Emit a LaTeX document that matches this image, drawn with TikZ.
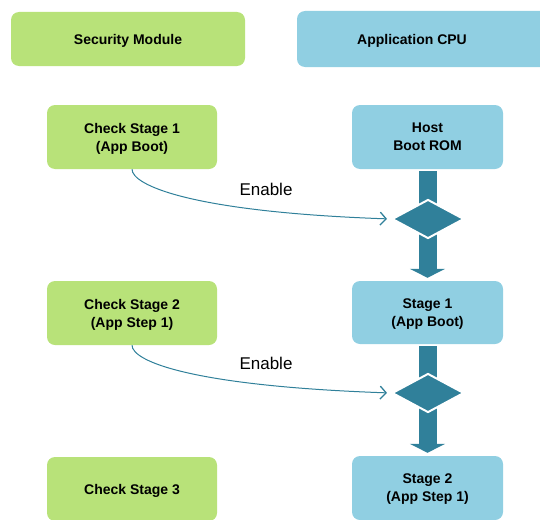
\documentclass[tikz,border=0pt]{standalone}
\usepackage{fontspec}
\setmainfont{Liberation Sans}
\usetikzlibrary{shapes.geometric,arrows.meta}
\definecolor{smgreen}{RGB}{184,226,121}
\definecolor{cpublue}{RGB}{144,207,226}
\definecolor{teal}{RGB}{48,128,154}
\tikzset{
  box/.style={rounded corners=8pt, minimum height=64pt, inner sep=0pt, align=center,
    text depth=0pt, font=\fontsize{14}{18}\selectfont\bfseries},
  greenbox/.style={box, fill=smgreen, minimum width=170pt},
  bluebox/.style={box, fill=cpublue, minimum width=151pt},
  bigarrow/.style={draw=teal, line width=18pt, -{Triangle[width=35pt,length=9pt]}},
  gate/.style={diamond, fill=teal, draw=white, line width=2pt, minimum width=72pt,
    minimum height=39pt, inner sep=0pt},
  enablearrow/.style={draw=teal, line width=1pt, -{Straight Barb[length=6pt,width=13pt,line width=1.3pt]}},
  lbl/.style={font=\fontsize{17}{20}\selectfont, inner sep=0pt}
}
\begin{document}
\begin{tikzpicture}[x=1pt,y=-1pt]
\useasboundingbox (0,0) rectangle (540,519);
% headers
\node[box, fill=smgreen, minimum width=234pt, minimum height=54pt] (sm) at (128,39) {Security Module};
\node[box, fill=cpublue, minimum width=263pt, minimum height=56pt] (cpu) at (428.5,39) {};
\node[font=\fontsize{14}{18}\selectfont\bfseries, text depth=0pt, inner sep=0pt] (cputxt) at (412,39) {Application CPU};
% left column
\node[greenbox] (cs1) at (132,137) {Check Stage 1\\(App Boot)};
\node[greenbox] (cs2) at (132,313) {Check Stage 2\\(App Step 1)};
\node[greenbox] (cs3) at (132,489) {Check Stage 3};
% right column
\node[bluebox] (rom) at (427.5,137) {Host\\Boot ROM};
\node[bluebox, minimum height=63pt] (s1) at (427.5,312.5) {Stage 1\\(App Boot)};
\node[bluebox] (s2) at (427.5,488) {Stage 2\\(App Step 1)};
% thick flow arrows
\draw[bigarrow] ([yshift=-2pt]rom.south) -- ([yshift=3pt]s1.north);
\draw[bigarrow] ([yshift=-2pt]s1.south) -- ([yshift=3pt]s2.north);
% gates
\node[gate] (d1) at (428,219) {};
\node[gate] (d2) at (428,393) {};
% enable arrows
\draw[enablearrow, shorten >=4pt] (cs1.south) .. controls +(0,16) and +(-200,-7) .. (d1.west);
\draw[enablearrow, shorten >=4pt] (cs2.south) .. controls +(0,16) and +(-200,-7) .. (d2.west);
\node[lbl] (en1) at (266,189) {Enable};
\node[lbl] (en2) at (266,363) {Enable};
\end{tikzpicture}
\end{document}
